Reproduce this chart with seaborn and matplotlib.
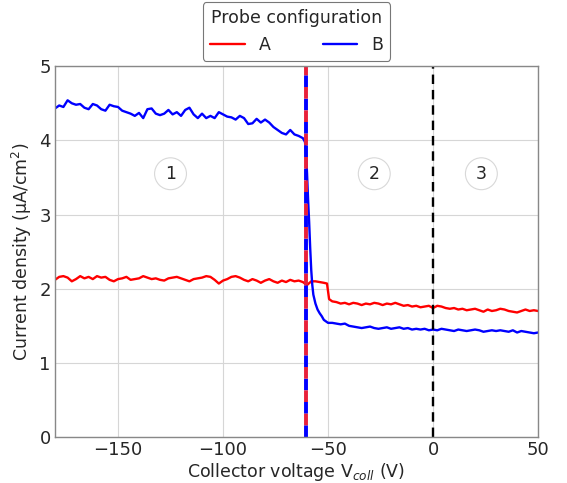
import numpy as np
import pandas as pd
import seaborn as sns
import matplotlib.pyplot as plt

# probe B (blue) - collector voltage (V) and current density (uA/cm2)
b_volt = [-180, -178, -176, -174, -172, -170, -168, -166, -164, -162, -160, -158, -156, -154,
          -152, -150, -148, -146, -144, -142, -140, -138, -136, -134, -132, -130, -128, -126,
          -124, -122, -120, -118, -116, -114, -112, -110, -108, -106, -104, -102, -100, -98,
          -96, -94, -92, -90, -88, -86, -84, -82, -80, -78, -76, -74, -72, -70, -68, -66,
          -64, -62, -61, -60.5, -60, -59.5, -59, -58.5, -58, -57.5, -57, -56, -55, -54, -53,
          -52, -50, -48, -46, -44, -42, -40, -38, -36, -34, -32, -30, -28, -26, -24, -22,
          -20, -18, -16, -14, -12, -10, -8, -6, -4, -2, 0, 2, 4, 6, 8, 10, 12, 14, 16, 18,
          20, 22, 24, 26, 28, 30, 32, 34, 36, 38, 40, 42, 44, 46, 48, 50]
b_curr = [4.43, 4.47, 4.45, 4.54, 4.50, 4.48, 4.49, 4.44, 4.42, 4.49, 4.47, 4.42, 4.40, 4.48,
          4.46, 4.45, 4.40, 4.38, 4.36, 4.33, 4.37, 4.30, 4.42, 4.43, 4.36, 4.34, 4.36, 4.41,
          4.35, 4.38, 4.33, 4.41, 4.44, 4.35, 4.30, 4.36, 4.30, 4.33, 4.30, 4.38, 4.35, 4.32,
          4.31, 4.28, 4.33, 4.30, 4.22, 4.23, 4.29, 4.24, 4.28, 4.24, 4.18, 4.14, 4.10, 4.08,
          4.14, 4.08, 4.06, 4.03, 3.98, 3.85, 3.55, 3.20, 2.90, 2.55, 2.25, 2.05, 1.92, 1.80,
          1.72, 1.67, 1.63, 1.58, 1.54, 1.54, 1.53, 1.52, 1.53, 1.50, 1.49, 1.48, 1.47, 1.48,
          1.49, 1.47, 1.46, 1.47, 1.48, 1.46, 1.47, 1.48, 1.46, 1.47, 1.45, 1.46, 1.45, 1.46,
          1.44, 1.45, 1.44, 1.46, 1.45, 1.44, 1.43, 1.45, 1.44, 1.43, 1.44, 1.45, 1.44, 1.42,
          1.43, 1.44, 1.43, 1.44, 1.43, 1.42, 1.44, 1.41, 1.43, 1.42, 1.41, 1.40, 1.41]

# probe A (red)
a_volt = [-180, -178, -176, -174, -172, -170, -168, -166, -164, -162, -160, -158, -156, -154,
          -152, -150, -148, -146, -144, -142, -140, -138, -136, -134, -132, -130, -128, -126,
          -124, -122, -120, -118, -116, -114, -112, -110, -108, -106, -104, -102, -100, -98,
          -96, -94, -92, -90, -88, -86, -84, -82, -80, -78, -76, -74, -72, -70, -68, -66,
          -64, -62, -60, -58, -56, -54, -52, -50.5, -49.5, -48, -46, -44, -42, -40, -38, -36,
          -34, -32, -30, -28, -26, -24, -22, -20, -18, -16, -14, -12, -10, -8, -6, -4, -2,
          0, 2, 4, 6, 8, 10, 12, 14, 16, 18, 20, 22, 24, 26, 28, 30, 32, 34, 36, 38, 40, 42,
          44, 46, 48, 50]
a_curr = [2.12, 2.16, 2.17, 2.15, 2.10, 2.13, 2.17, 2.14, 2.16, 2.13, 2.17, 2.15, 2.16, 2.12,
          2.10, 2.13, 2.14, 2.16, 2.12, 2.13, 2.14, 2.17, 2.15, 2.13, 2.14, 2.12, 2.11, 2.14,
          2.15, 2.16, 2.14, 2.12, 2.10, 2.13, 2.14, 2.15, 2.17, 2.16, 2.12, 2.07, 2.11, 2.13,
          2.16, 2.17, 2.15, 2.12, 2.10, 2.13, 2.11, 2.08, 2.11, 2.13, 2.10, 2.08, 2.11, 2.09,
          2.12, 2.10, 2.11, 2.09, 2.05, 2.10, 2.10, 2.09, 2.08, 2.07, 1.86, 1.83, 1.82, 1.80,
          1.81, 1.79, 1.81, 1.80, 1.78, 1.80, 1.79, 1.81, 1.80, 1.78, 1.80, 1.79, 1.81, 1.79,
          1.77, 1.78, 1.76, 1.77, 1.75, 1.76, 1.77, 1.74, 1.77, 1.76, 1.74, 1.73, 1.74, 1.72,
          1.73, 1.71, 1.72, 1.73, 1.71, 1.69, 1.72, 1.70, 1.71, 1.73, 1.72, 1.70, 1.69, 1.68,
          1.70, 1.72, 1.70, 1.71, 1.70]

regions = ['1', '2', '3']
region_x = [-125, -28, 23]
region_y = [3.55, 3.55, 3.55]
threshold_v = -60.5

df = pd.concat([
    pd.DataFrame({'V': a_volt, 'J': a_curr, 'Probe': 'A'}),
    pd.DataFrame({'V': b_volt, 'J': b_curr, 'Probe': 'B'}),
])

sns.set_style('whitegrid')
plt.rcParams['font.family'] = ['DejaVu Sans']

fig, ax = plt.subplots(figsize=(5.67, 4.83), dpi=100)
sns.lineplot(data=df, x='V', y='J', hue='Probe', palette={'A': 'red', 'B': 'blue'},
             lw=1.7, ax=ax, sort=False, estimator=None)

ax.axvline(threshold_v, color='blue', lw=2.8, ls=(0, (3, 3)))
ax.axvline(threshold_v, color='#e8203a', lw=2.8, ls=(3, (3, 3)))
ax.axvline(0, color='black', lw=1.7, ls=(0, (4, 2.5)))

for lab, x, y in zip(regions, region_x, region_y):
    ax.text(x, y, lab, ha='center', va='center', fontsize=12.5,
            bbox=dict(boxstyle='circle,pad=0.4', fc='white', ec='#d8d8d8', lw=0.8))

ax.set_xlim(-180, 50)
ax.set_ylim(0, 5)
ax.set_xticks([-150, -100, -50, 0, 50])
ax.set_yticks([0, 1, 2, 3, 4, 5])
ax.tick_params(labelsize=13, length=0, pad=3)
ax.set_xlabel(r'Collector voltage V$_{coll}$ (V)', fontsize=12.5, labelpad=1)
ax.set_ylabel(r'Current density (µA/cm$^2$)', fontsize=12.5, labelpad=4)
ax.grid(True, color='#d6d6d6', lw=0.8)
for s in ax.spines.values():
    s.set_color('#888888')
    s.set_linewidth(1.0)

leg = ax.legend(title='Probe configuration', loc='lower center', bbox_to_anchor=(0.5, 1.0),
                ncol=2, fontsize=12.5, title_fontsize=12.5, columnspacing=3.0,
                handlelength=2.0, frameon=True, borderaxespad=0.3)
leg.get_frame().set_edgecolor('#555555')
leg.get_frame().set_linewidth(0.8)

fig.subplots_adjust(left=0.097, right=0.949, bottom=0.095, top=0.863)
fig.savefig('out.png', dpi=100)
